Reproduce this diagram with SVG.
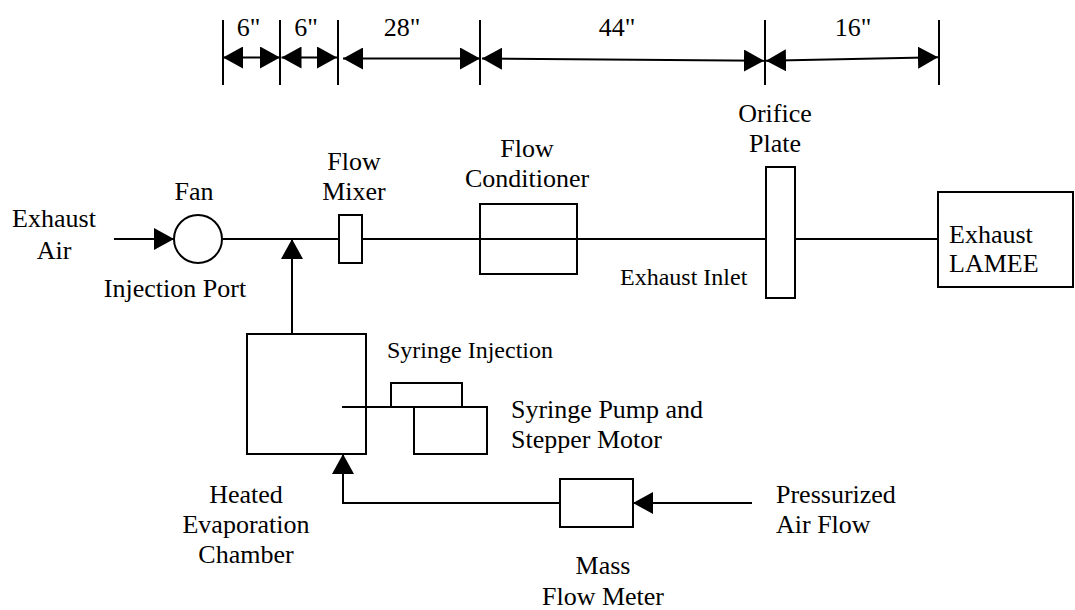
<svg xmlns="http://www.w3.org/2000/svg" width="1075" height="610" viewBox="0 0 1075 610" font-family="'Liberation Serif', Tinos, 'Times New Roman', 'DejaVu Serif', serif">
<style>
text{font-family:'Liberation Serif',Tinos,'Times New Roman','DejaVu Serif',serif;font-size:26px;fill:#000}
.sm{font-size:24px}
.c{text-anchor:middle}
.box{fill:#fff;stroke:#000;stroke-width:2}
.ln{fill:none;stroke:#000;stroke-width:2}
.tk{fill:none;stroke:#000;stroke-width:2}
.ar{fill:none;stroke:#000;stroke-width:2;marker-end:url(#ah)}
.da{fill:none;stroke:#000;stroke-width:2;marker-start:url(#ah);marker-end:url(#ah)}
</style>
<defs>
<marker id="ah" markerUnits="userSpaceOnUse" markerWidth="20" markerHeight="22" refX="20" refY="11" orient="auto-start-reverse" viewBox="0 0 20 22">
<path d="M0,0 L20,11 L0,22 z" fill="#000"/>
</marker>
</defs>
<rect width="1075" height="610" fill="#fff"/>

<g id="dimensions">
<line class="tk" x1="223" y1="20" x2="223" y2="85"/>
<line class="tk" x1="280" y1="20" x2="280" y2="85"/>
<line class="tk" x1="338" y1="20" x2="338" y2="85"/>
<line class="tk" x1="480" y1="20" x2="480" y2="85"/>
<line class="tk" x1="765" y1="20" x2="765" y2="85"/>
<line class="tk" x1="939" y1="20" x2="939" y2="85"/>
<line class="da" x1="223" y1="57.5" x2="280" y2="57.5"/>
<line class="da" x1="281.5" y1="57.5" x2="337" y2="57.5"/>
<line class="da" x1="343" y1="58.5" x2="480" y2="58.5"/>
<line class="da" x1="482" y1="58.5" x2="764" y2="60.7"/>
<line class="da" x1="766" y1="60.7" x2="938" y2="57.3"/>
<text class="c" x="248.5" y="36">6"</text>
<text class="c" x="306" y="36">6"</text>
<text class="c" x="402" y="36">28"</text>
<text class="c" x="617" y="36">44"</text>
<text class="c" x="853" y="36">16"</text>
</g>

<g id="connectors">
<line class="ar" x1="114" y1="239" x2="174" y2="239"/>
<line class="ln" x1="222" y1="239" x2="339" y2="239"/>
<line class="ln" x1="362" y1="239" x2="766" y2="239"/>
<line class="ln" x1="795" y1="239" x2="938" y2="239"/>
<line class="ar" x1="292" y1="334" x2="292" y2="239"/>
<polyline class="ar" points="560,503 343,503 343,454"/>
<line class="ar" x1="752" y1="503" x2="633" y2="503"/>
<line class="ln" x1="342" y1="407" x2="414" y2="407"/>
</g>

<g id="exhaust-air">
<text class="c" x="54" y="227">Exhaust</text>
<text class="c" x="54" y="259">Air</text>
</g>

<g id="fan">
<circle cx="198" cy="239" r="24" class="box"/>
<text class="c" x="194" y="200">Fan</text>
</g>

<g id="injection-port">
<text class="c" x="175" y="297">Injection Port</text>
</g>

<g id="flow-mixer">
<rect class="box" x="339" y="215" width="23" height="48"/>
<text class="c" x="354" y="170">Flow</text>
<text class="c" x="354" y="200">Mixer</text>
</g>

<g id="flow-conditioner">
<rect x="480" y="204" width="97" height="70" fill="none" stroke="#000" stroke-width="2"/>
<text class="c" x="527" y="157">Flow</text>
<text class="c" x="527" y="187">Conditioner</text>
</g>

<g id="exhaust-inlet">
<text class="sm" x="620" y="285">Exhaust Inlet</text>
</g>

<g id="orifice-plate">
<rect class="box" x="766" y="167" width="29" height="131"/>
<text class="c" x="775" y="122">Orifice</text>
<text class="c" x="775" y="152">Plate</text>
</g>

<g id="exhaust-lamee">
<rect class="box" x="938" y="192" width="135" height="95"/>
<text x="949" y="243">Exhaust</text>
<text x="949" y="272">LAMEE</text>
</g>

<g id="evaporation-chamber">
<rect x="247" y="334" width="119" height="120" fill="none" stroke="#000" stroke-width="2"/>
<text class="c" x="246" y="503">Heated</text>
<text class="c" x="246" y="533">Evaporation</text>
<text class="c" x="246" y="563">Chamber</text>
</g>

<g id="syringe-injection">
<rect class="box" x="391" y="383" width="71" height="24"/>
<text class="sm" x="387" y="358">Syringe Injection</text>
</g>

<g id="syringe-pump">
<rect class="box" x="414" y="407" width="73" height="47"/>
<text x="511" y="418">Syringe Pump and</text>
<text x="511" y="448">Stepper Motor</text>
</g>

<g id="mass-flow-meter">
<rect class="box" x="560" y="479" width="73" height="48"/>
<text class="c" x="603" y="574">Mass</text>
<text class="c" x="603" y="605">Flow Meter</text>
</g>

<g id="pressurized-air">
<text x="776" y="503">Pressurized</text>
<text x="776" y="533">Air Flow</text>
</g>
</svg>
